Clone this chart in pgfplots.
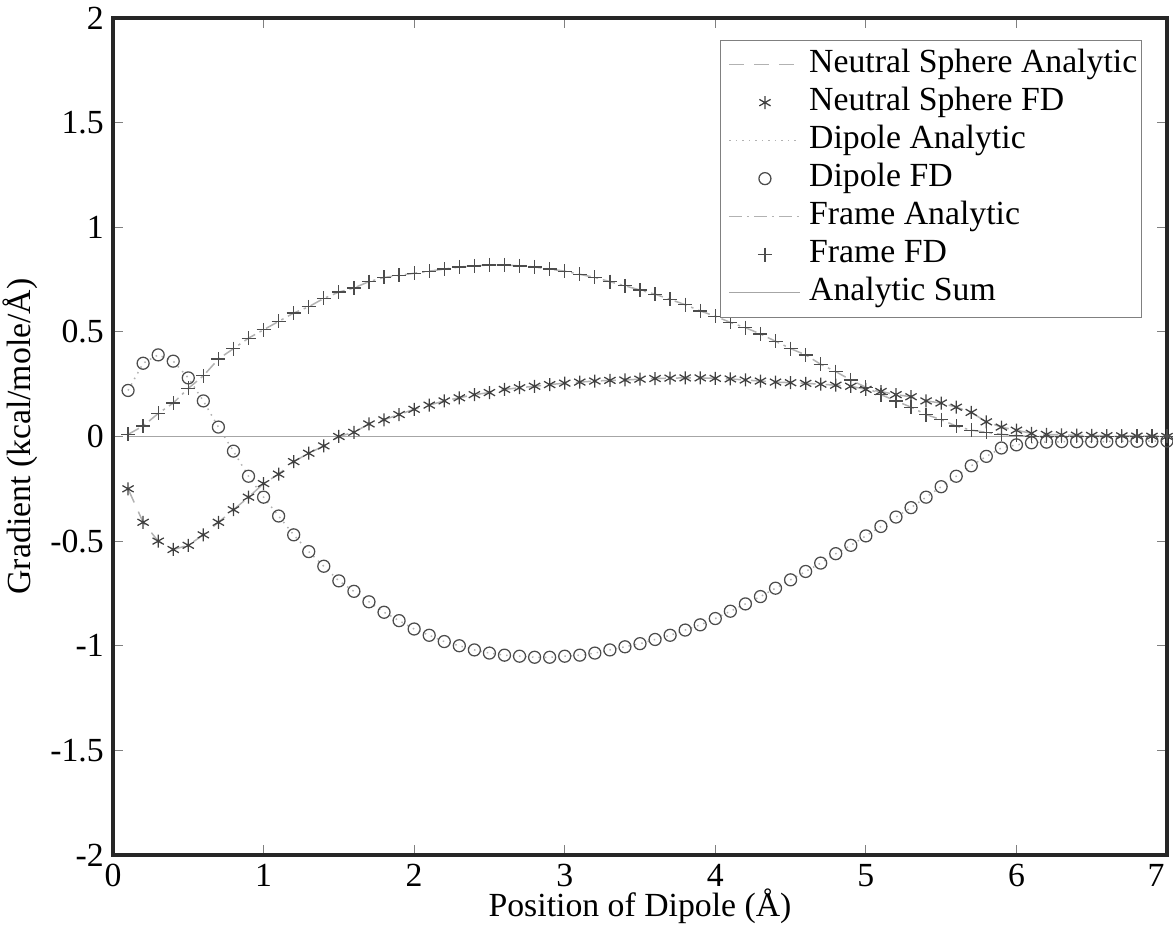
\documentclass[border=0pt]{standalone}
\usepackage{pgfplots}
\usepackage{pgfplotstable}
\pgfplotsset{compat=1.18}
\usepackage{fontspec}
\setmainfont{Liberation Serif}

\pgfplotstableread{
x ns dip fr
0.1 -0.25 0.22 0.01
0.2 -0.41 0.35 0.05
0.3 -0.50 0.39 0.11
0.4 -0.54 0.36 0.16
0.5 -0.52 0.28 0.23
0.6 -0.47 0.17 0.29
0.7 -0.41 0.045 0.37
0.8 -0.35 -0.07 0.42
0.9 -0.29 -0.19 0.47
1.0 -0.225 -0.29 0.51
1.1 -0.18 -0.38 0.55
1.2 -0.12 -0.47 0.59
1.3 -0.08 -0.55 0.62
1.4 -0.045 -0.62 0.66
1.5 0.00 -0.69 0.69
1.6 0.02 -0.74 0.71
1.7 0.06 -0.79 0.74
1.8 0.08 -0.84 0.76
1.9 0.105 -0.88 0.77
2.0 0.13 -0.92 0.78
2.1 0.15 -0.95 0.79
2.2 0.17 -0.98 0.80
2.3 0.185 -1.00 0.81
2.4 0.20 -1.02 0.815
2.5 0.21 -1.035 0.82
2.6 0.225 -1.045 0.82
2.7 0.233 -1.05 0.815
2.8 0.24 -1.055 0.81
2.9 0.248 -1.055 0.80
3.0 0.255 -1.05 0.79
3.1 0.26 -1.045 0.775
3.2 0.265 -1.035 0.76
3.3 0.268 -1.02 0.74
3.4 0.27 -1.005 0.72
3.5 0.274 -0.99 0.70
3.6 0.277 -0.97 0.68
3.7 0.279 -0.95 0.655
3.8 0.28 -0.925 0.63
3.9 0.28 -0.90 0.60
4.0 0.278 -0.87 0.575
4.1 0.275 -0.835 0.545
4.2 0.27 -0.80 0.52
4.3 0.265 -0.765 0.49
4.4 0.26 -0.725 0.455
4.5 0.257 -0.685 0.42
4.6 0.254 -0.645 0.39
4.7 0.25 -0.605 0.345
4.8 0.245 -0.56 0.31
4.9 0.24 -0.52 0.27
5.0 0.225 -0.475 0.235
5.1 0.215 -0.43 0.20
5.2 0.20 -0.385 0.17
5.3 0.19 -0.34 0.14
5.4 0.17 -0.29 0.105
5.5 0.16 -0.24 0.08
5.6 0.14 -0.19 0.05
5.7 0.115 -0.14 0.03
5.8 0.07 -0.095 0.02
5.9 0.045 -0.055 0.01
6.0 0.03 -0.04 0.005
6.1 0.015 -0.03 0.0
6.2 0.01 -0.027 0.0
6.3 0.008 -0.025 0.0
6.4 0.006 -0.025 0.0
6.5 0.005 -0.024 0.0
6.6 0.004 -0.024 0.0
6.7 0.003 -0.023 0.0
6.8 0.002 -0.023 0.0
6.9 0.001 -0.022 0.0
7.0 0.0 -0.022 0.0
}\data

\pgfplotsset{
  lineleg/.style={legend image code/.code={\path (-1.5pt,0pt) (31.6pt,0pt);\draw[##1] (0pt,0pt) -- (28.4pt,0pt);}},
  markleg/.style={legend image code/.code={\path (-1.5pt,0pt) (31.6pt,0pt);\draw[##1] plot coordinates {(14.2pt,0pt)};}},
}

\begin{document}
\fontsize{13.5}{16}\selectfont
\begin{tikzpicture}
\begin{axis}[
  scale only axis, width=421.6pt, height=334.8pt,
  xmin=0, xmax=7, ymin=-2, ymax=2,
  xtick={0,1,2,3,4,5,6,7},
  xticklabels={0,1,2,3,4,5,6,\makebox[0pt][r]{7\hspace{1pt}}},
  ytick={-2,-1.5,-1,-0.5,0,0.5,1,1.5,2},
  yticklabels={-2,-1.5,-1,-0.5,0,0.5,1,1.5,2},
  axis line style={line width=1.6pt, black!85},
  tick style={gray, line width=0.4pt},
  tick align=inside, major tick length=4pt,
  xticklabel style={yshift=1pt},
  yticklabel style={xshift=1pt},
  xlabel={Position of Dipole (Å)},
  ylabel={Gradient (kcal/mole/Å)},
  xlabel style={yshift=8.3pt},
  ylabel style={yshift=-4pt},
  legend style={at={(0.976,0.974)}, anchor=north east, draw=gray, line width=0.4pt,
    inner xsep=1.6pt, inner ysep=3pt, row sep=1.7pt, column sep=0pt,
    nodes={inner xsep=0pt, inner ysep=0pt, text height=10pt, text depth=3.5pt}},
  legend cell align=left,
  every axis plot/.append style={line width=0.6pt},
]
\addplot[lineleg, gray!60, dash pattern=on 6pt off 4pt] table[x=x,y=ns]{\data};
\addlegendentry{Neutral Sphere Analytic}
\addplot[markleg, only marks, black!75, mark=asterisk, mark size=2.6pt, mark options={line width=0.5pt}] table[x=x,y=ns]{\data};
\addlegendentry{Neutral Sphere FD}
\addplot[lineleg, gray!60, dotted] table[x=x,y=dip]{\data};
\addlegendentry{Dipole Analytic}
\addplot[markleg, only marks, black!70, mark=o, mark size=2.4pt, mark options={line width=0.5pt}] table[x=x,y=dip]{\data};
\addlegendentry{Dipole FD}
\addplot[lineleg, gray!60, dash pattern=on 5pt off 2pt on 1pt off 2pt] table[x=x,y=fr]{\data};
\addlegendentry{Frame Analytic}
\addplot[markleg, only marks, black!70, mark=+, mark size=2.8pt, mark options={line width=0.5pt}] table[x=x,y=fr]{\data};
\addlegendentry{Frame FD}
\addplot[lineleg, gray!70, line width=0.6pt] coordinates {(0.1,0) (7,0)};
\addlegendentry{Analytic Sum}
\end{axis}
\pgfresetboundingbox
\useasboundingbox ([xshift=-45.2pt,yshift=-28.8pt]current axis.south west) rectangle ([xshift=2.4pt,yshift=7.2pt]current axis.north east);
\end{tikzpicture}
\end{document}
